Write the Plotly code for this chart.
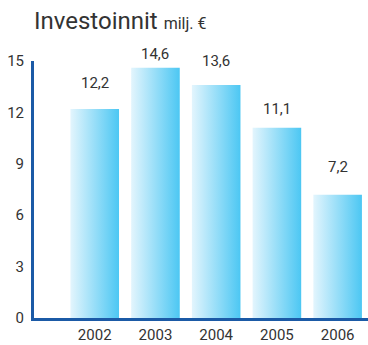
import plotly.graph_objects as go

years = [2002, 2003, 2004, 2005, 2006]
values = [12.2, 14.6, 13.6, 11.1, 7.2]
labels = ["12,2", "14,6", "13,6", "11,1", "7,2"]
yticks = [0, 3, 6, 9, 12, 15]

# styling: pixel gap between bar top and its value label (as in the original)
label_gap_px = [15, 3, 13, 8, 17]

bar_w = 0.8
fig = go.Figure()
for yr, v in zip(years, values):
    x0, x1 = yr - bar_w / 2, yr + bar_w / 2
    fig.add_trace(go.Scatter(
        x=[x0, x1, x1, x0, x0], y=[0, 0, v, v, 0],
        mode="lines", line=dict(width=0), fill="toself",
        fillgradient=dict(type="horizontal",
                          colorscale=[[0, "#e3f5fd"], [1, "#4cc7f3"]]),
        hoverinfo="skip", showlegend=False))

for yr, v, lab, gap in zip(years, values, labels, label_gap_px):
    fig.add_annotation(x=yr, y=v, text=lab, showarrow=False, yanchor="bottom",
                       yshift=gap, font=dict(family="Roboto", size=15, color="#333333"))

fig.add_annotation(xref="paper", yref="paper", x=-0.005, y=1.0, yshift=40,
                   xanchor="left", yanchor="middle", showarrow=False,
                   text="Investoinnit <span style='font-size:16px'>milj. €</span>",
                   font=dict(family="Roboto", size=24, color="#333333"))

fig.update_layout(
    width=368, height=345, margin=dict(l=34, r=0, t=61, b=27),
    plot_bgcolor="white", paper_bgcolor="white",
    xaxis=dict(range=[2001, 2006.5], tickvals=years, ticktext=[str(y) for y in years],
               showgrid=False, zeroline=False, showline=True, linecolor="#1b5aa6",
               linewidth=3, ticks="", ticklabelstandoff=1, automargin=False,
               tickfont=dict(family="Roboto", size=15, color="#333333"),
               fixedrange=True),
    yaxis=dict(range=[0, 15], tickvals=yticks, ticktext=[str(t) for t in yticks],
               showgrid=False, zeroline=False, showline=True, linecolor="#1b5aa6",
               linewidth=3, ticks="", ticklabelstandoff=4, automargin=False,
               tickfont=dict(family="Roboto", size=15, color="#333333"), fixedrange=True),
)

fig.write_html("out.html")
